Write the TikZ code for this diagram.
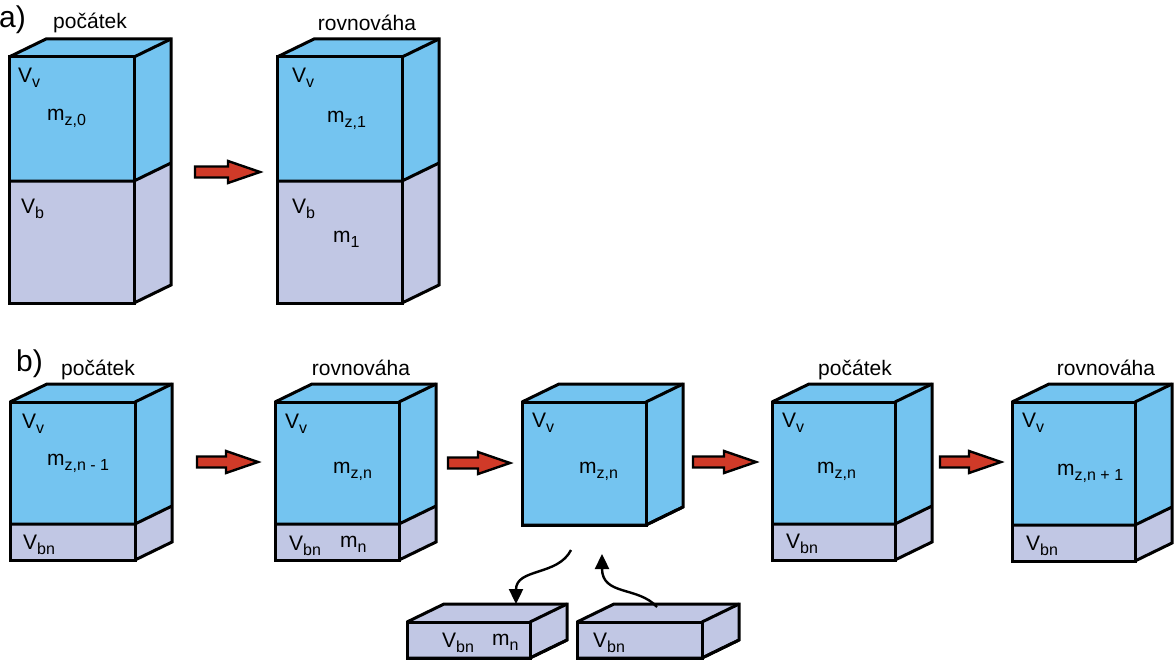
\documentclass[tikz,border=0pt]{standalone}
\usepackage{fontspec}
\setmainfont{Liberation Sans}
\usetikzlibrary{arrows.meta}
\definecolor{boxblue}{RGB}{116,196,240}
\definecolor{boxlav}{RGB}{193,199,228}
\definecolor{arrred}{RGB}{208,58,40}
\newcommand\sbs[1]{\raisebox{-5pt}{\fontsize{16}{16}\selectfont #1}}
% x1, x2, top, divider, bottom, upper colour, lower colour
\newcommand\drawbox[7]{%
  \fill[#6] (#1,#3) -- (#1+37,#3-18) -- (#2+37,#3-18) -- (#2,#3) -- cycle;
  \fill[#6] (#2,#3) -- (#2+37,#3-18) -- (#2+37,#4-18) -- (#2,#4) -- cycle;
  \fill[#7] (#2,#4) -- (#2+37,#4-18) -- (#2+37,#5-18) -- (#2,#5) -- cycle;
  \fill[#6] (#1,#3) rectangle (#2,#4);
  \fill[#7] (#1,#4) rectangle (#2,#5);
  \draw[boxline] (#1,#3) rectangle (#2,#5);
  \draw[boxline] (#1,#3) -- (#1+37,#3-18) -- (#2+37,#3-18) -- (#2+37,#5-18) -- (#2,#5);
  \draw[boxline] (#2,#3) -- (#2+37,#3-18);
  \draw[boxline] (#1,#4) -- (#2,#4) -- (#2+37,#4-18);
}
% x1, x2, y
\newcommand\redarrow[3]{%
  \filldraw[redarr] (#1,#3-5.5) -- (#2-32,#3-5.5) -- (#2-32,#3-11) -- (#2,#3)
    -- (#2-32,#3+11) -- (#2-32,#3+5.5) -- (#1,#3+5.5) -- cycle;
}
\tikzset{
  boxline/.style={line width=3pt, line join=miter},
  redarr/.style={fill=arrred, draw=black, line width=2.4pt, line join=miter},
  lab/.style={inner sep=0pt, anchor=base west, font=\fontsize{21}{25}\selectfont},
  head/.style={inner sep=0pt, anchor=base, font=\fontsize{21}{25}\selectfont},
  part/.style={inner sep=0pt, anchor=base west, font=\fontsize{30}{34}\selectfont},
  curv/.style={line width=2.4pt, -{Triangle[length=15pt,width=14pt]}},
}
\begin{document}
\begin{tikzpicture}[x=1pt,y=-1pt]
\useasboundingbox (0,0) rectangle (1174,661);
% ---------- a) ----------
\node[part] (pa) at (-1,28) {a)};
\drawbox{9}{134}{57}{181}{303}{boxblue}{boxlav}
\drawbox{277}{402}{57}{181}{303}{boxblue}{boxlav}
\node[head] (ha1) at (90,29) {počátek};
\node[head] (ha2) at (367,31) {rovnováha};
\node[lab] (a1v) at (18,82) {V\sbs{v}};
\node[lab] (a1m) at (47,120) {m\sbs{z,0}};
\node[lab] (a1b) at (21,213) {V\sbs{b}};
\node[lab] (a2v) at (292,82) {V\sbs{v}};
\node[lab] (a2m) at (327,122) {m\sbs{z,1}};
\node[lab] (a2b) at (292,213) {V\sbs{b}};
\node[lab] (a2n) at (333,242) {m\sbs{1}};
\redarrow{195}{260}{172}
% ---------- b) ----------
\node[part] (pb) at (16,371) {b)};
\drawbox{10}{135}{402}{524}{560}{boxblue}{boxlav}
\drawbox{275}{399}{402}{524}{560}{boxblue}{boxlav}
\drawbox{522}{646}{402}{525}{525}{boxblue}{boxblue}
\drawbox{772}{895}{402}{524}{560}{boxblue}{boxlav}
\drawbox{1012}{1135}{402}{525}{561}{boxblue}{boxlav}
\drawbox{407}{530}{622}{658}{658}{boxlav}{boxlav}
\drawbox{577}{702}{622}{658}{658}{boxlav}{boxlav}
\node[head] (hb1) at (98,375) {počátek};
\node[head] (hb2) at (361,375) {rovnováha};
\node[head] (hb4) at (855,375) {počátek};
\node[head] (hb5) at (1106,375) {rovnováha};
\node[lab] (b1v) at (22,428) {V\sbs{v}};
\node[lab] (b1m) at (47,465) {m\sbs{z,n - 1}};
\node[lab] (b1b) at (23,549) {V\sbs{bn}};
\node[lab] (b2v) at (285,428) {V\sbs{v}};
\node[lab] (b2m) at (333,473) {m\sbs{z,n}};
\node[lab] (b2b) at (289,550) {V\sbs{bn}};
\node[lab] (b2n) at (340,547) {m\sbs{n}};
\node[lab] (b3v) at (532,427) {V\sbs{v}};
\node[lab] (b3m) at (579,473) {m\sbs{z,n}};
\node[lab] (b4v) at (782,427) {V\sbs{v}};
\node[lab] (b4m) at (817,473) {m\sbs{z,n}};
\node[lab] (b4b) at (786,548) {V\sbs{bn}};
\node[lab] (b5v) at (1022,427) {V\sbs{v}};
\node[lab] (b5m) at (1057,475) {m\sbs{z,n + 1}};
\node[lab] (b5b) at (1026,550) {V\sbs{bn}};
\node[lab] (s1b) at (442,647) {V\sbs{bn}};
\node[lab] (s1n) at (492,645) {m\sbs{n}};
\node[lab] (s2b) at (593,647) {V\sbs{bn}};
\redarrow{197}{258}{462}
\redarrow{448}{510}{463}
\redarrow{693}{756}{462}
\redarrow{940}{1001}{462}
% curved connectors
\coordinate (d1s) at (571,550);
\coordinate (d1e) at (516,604);
\coordinate (d2s) at (657,607);
\coordinate (d2e) at (602,554);
\draw[curv] (d1s) .. controls (558,576) and (516,568) .. (d1e);
\draw[curv] (d2s) .. controls (638,586) and (602,596) .. (d2e);
\end{tikzpicture}
\end{document}
